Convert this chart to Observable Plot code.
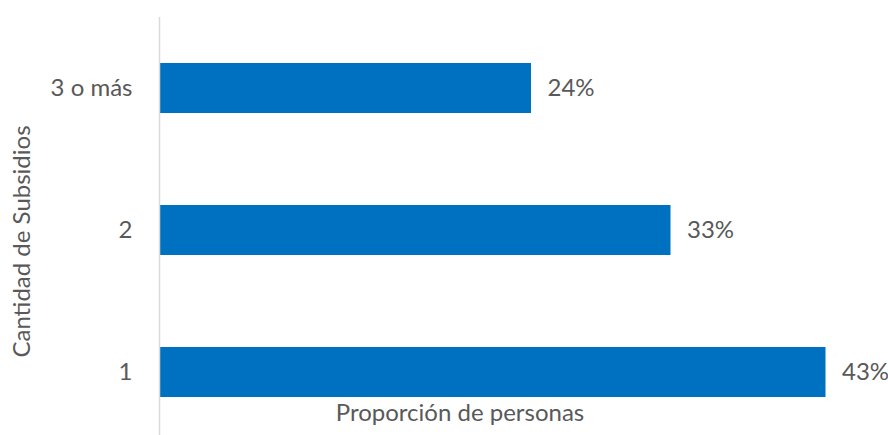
<!DOCTYPE html>
<html><head><meta charset="utf-8">
<script src="https://cdn.jsdelivr.net/npm/d3@7"></script>
<script src="https://cdn.jsdelivr.net/npm/@observablehq/plot@0.6"></script>
<style>body{margin:0;background:#fff}</style>
</head><body><div id="chart"></div>
<script>
const categories = ["3 o más", "2", "1"];
const values = [24, 33, 43];
const valueLabels = ["24%", "33%", "43%"];
const xLabel = "Proporción de personas";
const yLabel = "Cantidad de Subsidios";

const data = categories.map((c, i) => ({cat: c, v: values[i], lab: valueLabels[i]}));
const font = "Lato, 'Open Sans', sans-serif";
const gray = "#595959";
const fs = 24;

const chart = Plot.plot({
  width: 888, height: 435,
  marginLeft: 159, marginRight: 0, marginTop: 17, marginBottom: 0,
  style: {fontFamily: font, background: "#fff", fontWeight: 400},
  x: {domain: [0, 47], range: [159, 887.5], axis: null},
  y: {domain: categories, range: [17, 443], paddingInner: 0.648, paddingOuter: 0.324, axis: null},
  marks: [
    Plot.barX(data, {x: "v", y: "cat", fill: "#0070C0"}),
    Plot.ruleX([0], {stroke: "#d9d9d9", strokeWidth: 1.5}),
    Plot.text(data, {x: 0, y: "cat", text: "cat", textAnchor: "end", dx: -27, fontSize: fs, fill: gray}),
    Plot.text(data, {x: "v", y: "cat", text: "lab", textAnchor: "start", dx: 16, fontSize: fs, fill: gray}),
    Plot.text([xLabel], {frameAnchor: "bottom", text: d => d, dx: -64, dy: -22, fontSize: fs, fill: gray, lineAnchor: "middle"}),
    Plot.text([yLabel], {frameAnchor: "left", text: d => d, rotate: -90, dx: -137, dy: 15, fontSize: fs, fill: gray, textAnchor: "middle"})
  ]
});
document.getElementById("chart").append(chart);
</script></body></html>
